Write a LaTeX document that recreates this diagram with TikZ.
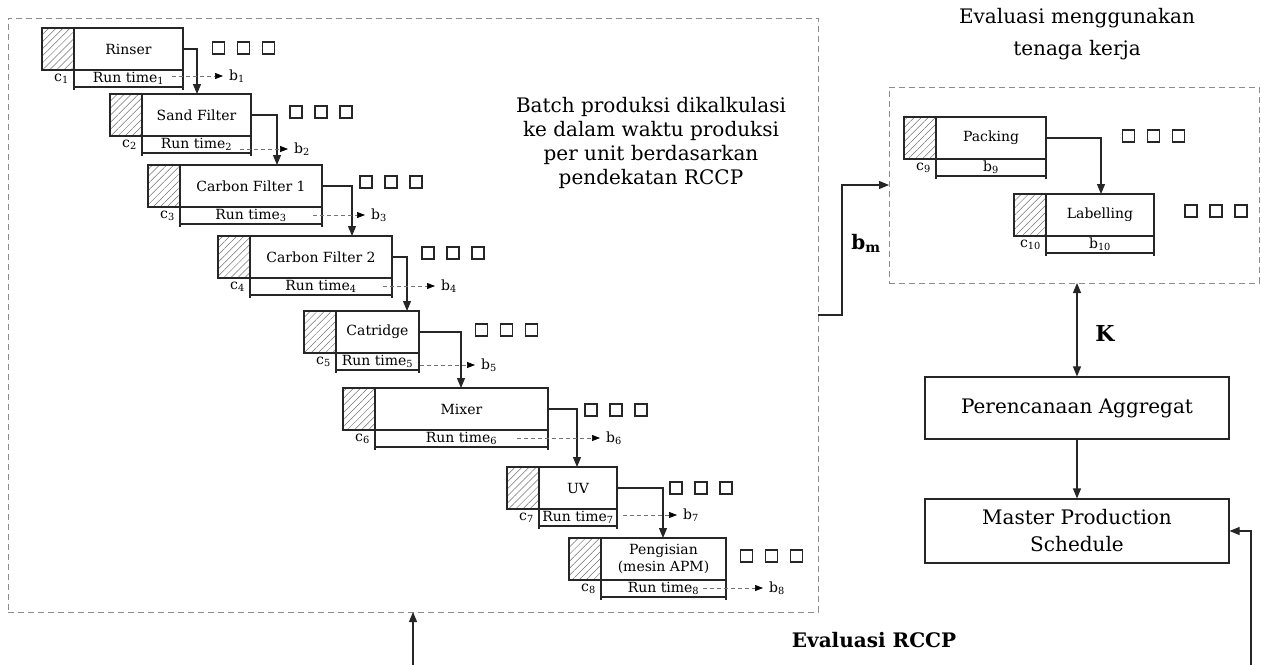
\documentclass[tikz,border=0pt]{standalone}
\usepackage{fontspec}
\setmainfont{DejaVu Serif}
\usetikzlibrary{arrows.meta,patterns.meta}
\tikzset{
  ln/.style={draw=black!85, line width=1.1pt},
  hatchbox/.style={ln, pattern={Lines[angle=45,distance=5pt,line width=0.5pt]}, pattern color=black!55, minimum width=32pt, minimum height=42pt, anchor=north west, inner sep=0pt, outer sep=0pt},
  mainbox/.style={ln, minimum height=42pt, anchor=north west, inner sep=0pt, outer sep=0pt, font=\fontsize{14}{17}\selectfont, align=center},
  rowtext/.style={font=\fontsize{14}{16}\selectfont, inner sep=0pt},
  clab/.style={font=\fontsize{14}{16}\selectfont, anchor=east, inner sep=0pt},
  blab/.style={font=\fontsize{14}{16}\selectfont, anchor=west, inner sep=0pt},
  sq/.style={ln, minimum size=12pt, inner sep=0pt},
  conn/.style={draw=black!85, line width=1.1pt, -{Triangle[length=10pt,width=8pt]}},
  conntwo/.style={draw=black!85, line width=1.1pt, {Triangle[length=10pt,width=8pt]}-{Triangle[length=10pt,width=8pt]}},
  dasharr/.style={draw=black!55, line width=0.7pt, dash pattern=on 4pt off 3pt, -{Triangle[length=8pt,width=6pt,color=black]}, shorten >=6pt},
  dashbox/.style={draw=black!45, line width=0.8pt, dash pattern=on 6pt off 4pt, inner sep=0pt, outer sep=0pt, anchor=north west},
  bigtext/.style={font=\fontsize{20}{24}\selectfont, align=center},
  boldtext/.style={font=\fontsize{20}{24}\selectfont\bfseries},
}
\newcommand\stage[7]{%
  \node[hatchbox] (#1h) at (#2,#3) {};
  \node[mainbox, minimum width=#4pt] (#1) at (#1h.north east) {#5};
  \draw[ln] (#1.south west) -- ++(0,20) (#1.south east) -- ++(0,20);
  \draw[ln] ([yshift=-17pt]#1.south west) -- ([yshift=-17pt]#1.south east);
  \node[rowtext] (#1r) at ([yshift=-8.5pt]#1.south) {#6};
  \node[clab] (#1c) at ([xshift=-5pt,yshift=-9pt]#1.south west) {#7};
}
\newcommand\threesq[3]{\foreach \i in {0,1,2}{\node[sq] (#1-\i) at ({#2+25*\i},#3) {};}}
\newcommand\dasharrow[5]{% name, x start, x end, y, label
  \coordinate (#1d) at (#2,#4);
  \node[blab] (#1) at ({#3+6},#4) {#5};
  \draw[dasharr] (#1d) -- (#1.west);
}
\begin{document}
\begin{tikzpicture}[x=1pt,y=-1pt]
\useasboundingbox (0,0) rectangle (1261,664);
\fill[white] (0,0) rectangle (1261,664);

% dashed frames
\node[dashbox, minimum width=810pt, minimum height=594pt] (L) at (8,18) {};
\node[dashbox, minimum width=370pt, minimum height=196pt] (R) at (889,87) {};

% stages
\stage{s1}{42}{28}{109}{Rinser}{Run time\textsubscript{1}}{c\textsubscript{1}}
\stage{s2}{110}{94}{109}{Sand Filter}{Run time\textsubscript{2}}{c\textsubscript{2}}
\stage{s3}{148}{165}{142}{Carbon Filter 1}{Run time\textsubscript{3}}{c\textsubscript{3}}
\stage{s4}{218}{236}{142}{Carbon Filter 2}{Run time\textsubscript{4}}{c\textsubscript{4}}
\stage{s5}{304}{311}{83}{Catridge}{Run time\textsubscript{5}}{c\textsubscript{5}}
\stage{s6}{343}{388}{173}{Mixer}{Run time\textsubscript{6}}{c\textsubscript{6}}
\stage{s7}{507}{467}{78}{UV}{Run time\textsubscript{7}}{c\textsubscript{7}}
\stage{s8}{569}{538}{125}{Pengisian\\(mesin APM)}{Run time\textsubscript{8}}{c\textsubscript{8}}
\stage{s9}{904}{117}{110}{Packing}{b\textsubscript{9}}{c\textsubscript{9}}
\stage{s10}{1014}{194}{108}{Labelling}{b\textsubscript{10}}{c\textsubscript{10}}

% flow arrows
\draw[conn] (s1.east) -| ([xshift=55pt]s2.north west);
\draw[conn] (s2.east) -| ([xshift=97pt]s3.north west);
\draw[conn] (s3.east) -| ([xshift=102pt]s4.north west);
\draw[conn] (s4.east) -| ([xshift=71pt]s5.north west);
\draw[conn] (s5.east) -| ([xshift=86pt]s6.north west);
\draw[conn] (s6.east) -| ([xshift=38pt]s7.north west);
\draw[conn] (s7.east) -| ([xshift=62pt]s8.north west);
\draw[conn] (s9.east) -| ([xshift=55pt]s10.north west);

% dashed outputs
\dasharrow{b1}{172}{223}{76}{b\textsubscript{1}}
\dasharrow{b2}{240}{288}{149}{b\textsubscript{2}}
\dasharrow{b3}{313}{365}{215}{b\textsubscript{3}}
\dasharrow{b4}{383}{435}{286}{b\textsubscript{4}}
\dasharrow{b5}{420}{475}{365}{b\textsubscript{5}}
\dasharrow{b6}{517}{600}{438}{b\textsubscript{6}}
\dasharrow{b7}{623}{677}{515}{b\textsubscript{7}}
\dasharrow{b8}{703}{763}{588}{b\textsubscript{8}}

% squares
\threesq{q1}{218.5}{48}
\threesq{q2}{296}{112}
\threesq{q3}{366}{182}
\threesq{q4}{428}{253}
\threesq{q5}{481.5}{330}
\threesq{q6}{591}{410}
\threesq{q7}{676}{488}
\threesq{q8}{746.5}{556}
\threesq{q9}{1128.5}{136}
\threesq{q10}{1191}{211}

% texts
\node[bigtext] (batch) at (651,143) {Batch produksi dikalkulasi\\ke dalam waktu produksi\\per unit berdasarkan\\pendekatan RCCP};
\node[bigtext, font=\fontsize{20}{32}\selectfont] (title) at (1077,34) {Evaluasi menggunakan\\tenaga kerja};

% right column
\node[ln, bigtext, minimum width=304pt, minimum height=62pt, inner sep=0pt] (PA) at (1077,408) {Perencanaan Aggregat};
\node[ln, bigtext, font=\fontsize{20}{27}\selectfont, minimum width=304pt, minimum height=64pt, inner sep=0pt] (MPS) at (1077,531) {Master Production\\Schedule};
\draw[conn] (PA.south) -- (MPS.north);
\draw[conntwo] (R.south -| PA.north) -- (PA.north);
\node[boldtext, font=\fontsize{22}{24}\selectfont\bfseries] (K) at (1105,333) {K};

% b_m connector
\draw[conn] (L.east) -- ++(24,0) |- (R.west);
\node[boldtext] (bm) at (866,243) {b\textsubscript{m}};

% RCCP feedback
\coordinate (e1) at (413,700);
\coordinate (e2) at (1251,700);
\draw[conntwo] (L.south -| e1) -- (e1) -- (e2) |- (MPS.east);
\node[boldtext] (rccp) at (874,640) {Evaluasi RCCP};
\end{tikzpicture}
\end{document}
